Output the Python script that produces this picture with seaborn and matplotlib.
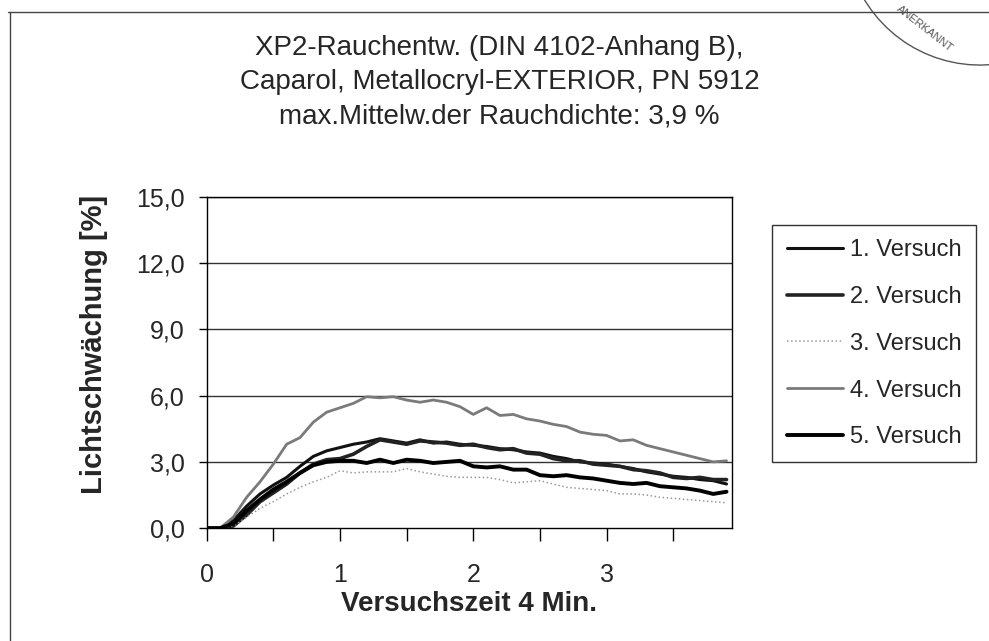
import numpy as np
import pandas as pd
import matplotlib
matplotlib.use("Agg")
import matplotlib.pyplot as plt
from matplotlib.lines import Line2D
from matplotlib.patches import Arc
import seaborn as sns

# time axis in minutes
zeit = [0.0, 0.1, 0.2, 0.3, 0.4, 0.5, 0.6, 0.7, 0.8, 0.9,
        1.0, 1.1, 1.2, 1.3, 1.4, 1.5, 1.6, 1.7, 1.8, 1.9,
        2.0, 2.1, 2.2, 2.3, 2.4, 2.5, 2.6, 2.7, 2.8, 2.9,
        3.0, 3.1, 3.2, 3.3, 3.4, 3.5, 3.6, 3.7, 3.8, 3.9]

versuch1 = [0, 0, 0.35, 1.0, 1.55, 1.95, 2.3, 2.8, 3.25, 3.5,
            3.65, 3.8, 3.9, 4.05, 3.95, 3.85, 4.0, 3.85, 3.9, 3.8,
            3.75, 3.7, 3.6, 3.55, 3.45, 3.4, 3.25, 3.15, 3.0, 2.95,
            2.9, 2.8, 2.7, 2.55, 2.45, 2.35, 2.3, 2.2, 2.15, 2.0]
versuch2 = [0, 0, 0.1, 0.6, 1.2, 1.6, 2.0, 2.5, 2.9, 3.1,
            3.15, 3.35, 3.7, 4.0, 3.9, 3.8, 3.95, 3.9, 3.85, 3.75,
            3.8, 3.65, 3.55, 3.6, 3.4, 3.35, 3.15, 3.05, 3.05, 2.9,
            2.85, 2.8, 2.65, 2.6, 2.5, 2.3, 2.25, 2.3, 2.2, 2.2]
versuch3 = [0, 0, 0.1, 0.5, 0.9, 1.2, 1.55, 1.85, 2.1, 2.3,
            2.6, 2.5, 2.55, 2.55, 2.55, 2.7, 2.55, 2.45, 2.35, 2.3,
            2.3, 2.3, 2.2, 2.05, 2.1, 2.15, 2.0, 1.85, 1.8, 1.75,
            1.7, 1.55, 1.55, 1.5, 1.4, 1.35, 1.3, 1.25, 1.2, 1.15]
versuch4 = [0, 0, 0.5, 1.4, 2.1, 2.9, 3.8, 4.1, 4.8, 5.25,
            5.45, 5.65, 5.95, 5.9, 5.95, 5.8, 5.7, 5.8, 5.7, 5.5,
            5.15, 5.45, 5.1, 5.15, 4.95, 4.85, 4.7, 4.6, 4.35, 4.25,
            4.2, 3.95, 4.0, 3.75, 3.6, 3.45, 3.3, 3.15, 3.0, 3.05]
versuch5 = [0, 0, 0.2, 0.8, 1.3, 1.75, 2.1, 2.5, 2.85, 3.0,
            3.05, 3.05, 2.95, 3.1, 2.95, 3.1, 3.05, 2.95, 3.0, 3.05,
            2.8, 2.75, 2.8, 2.65, 2.65, 2.4, 2.35, 2.4, 2.3, 2.25,
            2.15, 2.05, 2.0, 2.05, 1.9, 1.85, 1.8, 1.7, 1.55, 1.65]

labels = ["1. Versuch", "2. Versuch", "3. Versuch", "4. Versuch", "5. Versuch"]
series = [versuch1, versuch2, versuch3, versuch4, versuch5]
colors = ["#111111", "#222222", "#9a9a9a", "#7a7a7a", "#000000"]
widths = [2.2, 2.6, 1.1, 2.0, 2.8]
styles = ["-", "-", ":", "-", "-"]

y_ticks = [0, 3, 6, 9, 12, 15]
y_ticklabels = ["0,0", "3,0", "6,0", "9,0", "12,0", "15,0"]
x_ticks = [0, 1, 2, 3]

sns.set_theme(style="white")
plt.rcParams["font.family"] = ["Liberation Sans", "DejaVu Sans"]

fig = plt.figure(figsize=(9.89, 6.41), dpi=100)
ax = fig.add_axes([0.209, 0.176, 0.531, 0.517])

for vals, lab, c, lw, ls in zip(series, labels, colors, widths, styles):
    sns.lineplot(x=zeit, y=vals, ax=ax, color=c, linewidth=lw,
                 linestyle=ls, label=lab, legend=False)

ax.set_xlim(0, 3.94)
ax.set_ylim(0, 15)
ax.set_yticks(y_ticks)
ax.set_yticklabels(y_ticklabels, fontsize=18)
ax.set_xticks(x_ticks)
ax.set_xticklabels([str(t) for t in x_ticks], fontsize=18)
ax.set_xticks([0.5, 1.5, 2.5, 3.5], minor=True)
ax.tick_params(axis="x", which="both", direction="out", length=9,
               width=1, color="black", pad=16, bottom=True)
ax.tick_params(axis="y", direction="out", length=6, width=1,
               color="black", pad=10, left=True)
for y in y_ticks[1:]:
    ax.axhline(y, color="#333333", linewidth=1, zorder=0)
for s in ax.spines.values():
    s.set_color("black")
    s.set_linewidth(1)

ax.set_ylabel("Lichtschwächung [%]", fontsize=21, fontweight="bold")
ax.yaxis.set_label_coords(-0.188, 0.553)
ax.set_xlabel("Versuchszeit 4 Min.", fontsize=20, fontweight="bold", labelpad=3)

fig.text(0.505, 0.946, "XP2-Rauchentw. (DIN 4102-Anhang B),\n"
         "Caparol, Metallocryl-EXTERIOR, PN 5912\n"
         "max.Mittelw.der Rauchdichte: 3,9 %",
         ha="center", va="top", fontsize=20, linespacing=1.42)

handles = [Line2D([], [], color=c, linewidth=lw, linestyle=ls)
           for c, lw, ls in zip(colors, widths, styles)]
leg = fig.legend(handles, labels, loc="upper left",
                 bbox_to_anchor=(0.781, 0.649), borderaxespad=0, fontsize=17,
                 frameon=True, fancybox=False, handlelength=2.4,
                 handletextpad=0.3, labelspacing=1.05, borderpad=0.6)
leg.get_frame().set_edgecolor("black")
leg.get_frame().set_linewidth(1)

# scanned page border and stamp edge
fig.add_artist(Line2D([0.008, 1.0], [0.982, 0.982], color="#444444", linewidth=1))
fig.add_artist(Line2D([0.01, 0.01], [0.0, 0.982], color="#444444", linewidth=1))
fig.add_artist(Arc((0.991, 1.109), 0.273, 0.421, theta1=208, theta2=275,
                   transform=fig.transFigure, color="#555555", linewidth=1))
fig.text(0.935, 0.955, "ANERKANNT", fontsize=8, color="#555555",
         rotation=-38, ha="center", va="center")

fig.savefig("out.png", dpi=100)
